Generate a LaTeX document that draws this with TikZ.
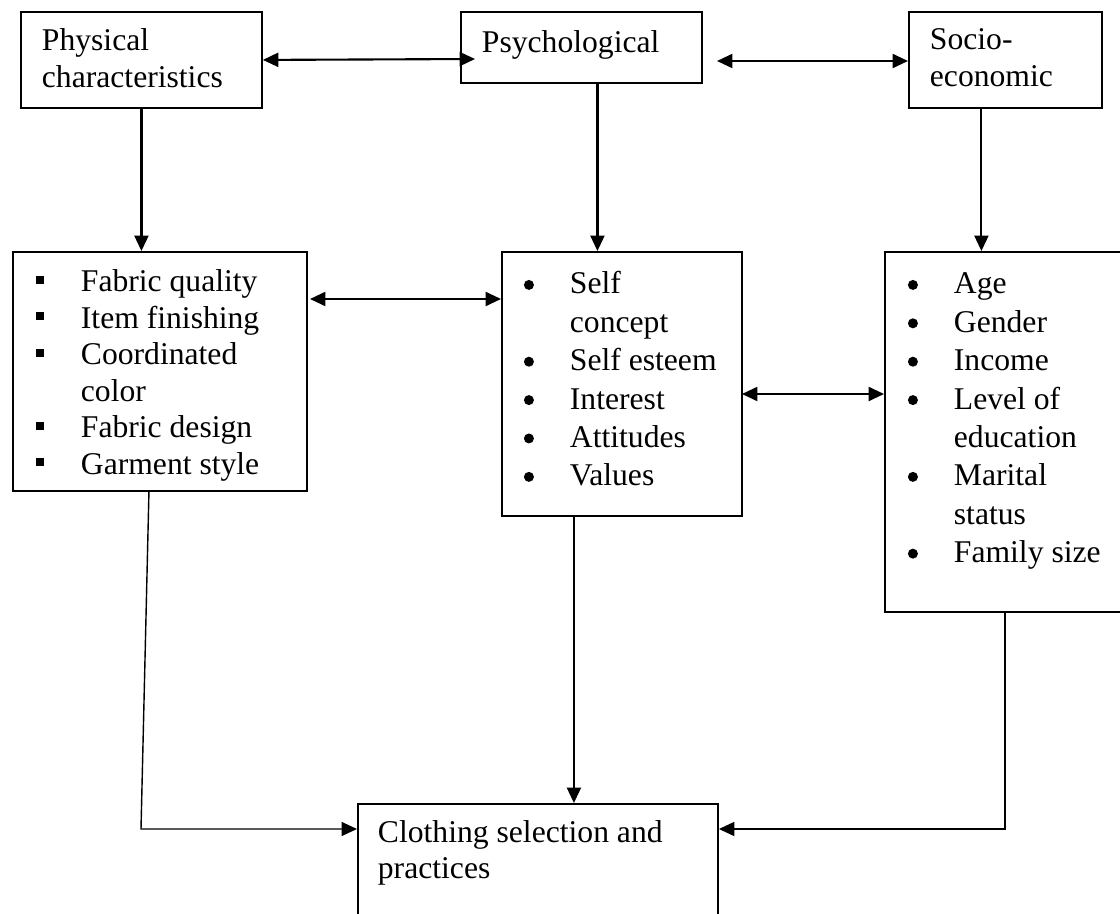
\documentclass[tikz,border=0pt]{standalone}
\usepackage{fontspec}
\setmainfont{Liberation Serif}
\usetikzlibrary{arrows.meta}

% width, height, left gap, first baseline, text
\newcommand{\boxtext}[5]{\parbox[t][#2][t]{#1}{\leftskip=#3\rule{0pt}{#4}#5}}
\newcommand{\sqitem}{\makebox[1.125cm][l]{\rule[0.2cm]{0.21cm}{0.21cm}}}
\newcommand{\dotitem}{\makebox[1.15cm][l]{\tikz[baseline=0pt]\fill[black] (0.125cm,0.225cm) circle[radius=0.125cm];}}

\tikzstyle{box}    = [rectangle, draw=black, line width=1.3pt, inner sep=0pt, anchor=north west]
\tikzstyle{arrow}  = [line width=1.5pt, -{Triangle[length=11pt, width=10pt]}]
\tikzstyle{twoway} = [line width=1.5pt, {Triangle[length=11pt, width=10pt]}-{Triangle[length=11pt, width=10pt]}]
\tikzstyle{feed}   = [line width=1pt, -{Triangle[length=11pt, width=10pt]}]

\begin{document}
\begin{tikzpicture}[x=0.025cm, y=-0.025cm]
    \useasboundingbox (0,0) rectangle (1120,914);

    % top row
    \node (phys)  [box, font=\fontsize{22.5}{26.3}\selectfont] at (20,11)
        {\boxtext{6.025cm}{2.4cm}{0.525cm}{0.975cm}{Physical\\characteristics}};
    \node (psych) [box, font=\fontsize{22.5}{26.3}\selectfont] at (460,11)
        {\boxtext{6.025cm}{1.775cm}{0.525cm}{1.025cm}{Psychological}};
    \node (socio) [box, font=\fontsize{22.5}{26.3}\selectfont] at (908,11)
        {\boxtext{4.825cm}{2.4cm}{0.525cm}{0.95cm}{Socio-\\economic}};

    % lists
    \node (physlist)  [box, font=\fontsize{22.5}{25.96}\selectfont] at (12,251)
        {\boxtext{7.35cm}{5.975cm}{0.575cm}{1cm}{\sqitem Fabric quality\\
            \sqitem Item finishing\\
            \sqitem Coordinated\\
            \hspace*{1.125cm}color\\
            \sqitem Fabric design\\
            \sqitem Garment style}};
    \node (psychlist) [box, font=\fontsize{22.5}{27.3}\selectfont] at (501,251)
        {\boxtext{6cm}{6.6cm}{0.55cm}{1.05cm}{\dotitem Self\\
            \hspace*{1.15cm}concept\\
            \dotitem Self esteem\\
            \dotitem Interest\\
            \dotitem Attitudes\\
            \dotitem Values}};
    \node (sociolist) [box, font=\fontsize{22.5}{27.3}\selectfont] at (884,251)
        {\boxtext{6cm}{9cm}{0.575cm}{1.05cm}{\dotitem Age\\
            \dotitem Gender\\
            \dotitem Income\\
            \dotitem Level of\\
            \hspace*{1.15cm}education\\
            \dotitem Marital\\
            \hspace*{1.15cm}status\\
            \dotitem Family size}};

    % result
    \node (cloth) [box, font=\fontsize{22.5}{25.6}\selectfont] at (357,803)
        {\boxtext{9cm}{3.5cm}{0.5cm}{0.975cm}{Clothing selection and\\practices}};

    \coordinate (psychin)     at (475,59);
    \coordinate (psychout)    at (717,61);
    \coordinate (psychdown)   at ([xshift=0.4cm]psych.south);
    \coordinate (sociodown)   at ([xshift=-0.6cm]socio.south);
    \coordinate (physright)   at (310,299);
    \coordinate (psychright)  at (742,394);
    \coordinate (psychbottom) at ([xshift=-1.2cm]psychlist.south);
    \coordinate (physbottom)  at ([xshift=-0.275cm]physlist.south);
    \coordinate (clothleft)   at (141,829);

    \draw [twoway] (phys.east) -- (psychin);
    \draw [twoway] (psychout) -- (psychout -| socio.west);
    \draw [arrow] (phys.south) -- (phys.south |- physlist.north);
    \draw [arrow] (psychdown) -- (psychdown |- psychlist.north);
    \draw [arrow] (sociodown) -- (sociodown |- sociolist.north);
    \draw [twoway] (physright) -- (physright -| psychlist.west);
    \draw [twoway] (psychright) -- (psychright -| sociolist.west);
    \draw [arrow] (psychbottom) -- (psychbottom |- cloth.north);
    \draw [feed] (physbottom) -- (clothleft) -- (clothleft -| cloth.west);
    \draw [feed] (sociolist.south) -- (sociolist.south |- clothleft) -- (cloth.east |- clothleft);

\end{tikzpicture}
\end{document}
